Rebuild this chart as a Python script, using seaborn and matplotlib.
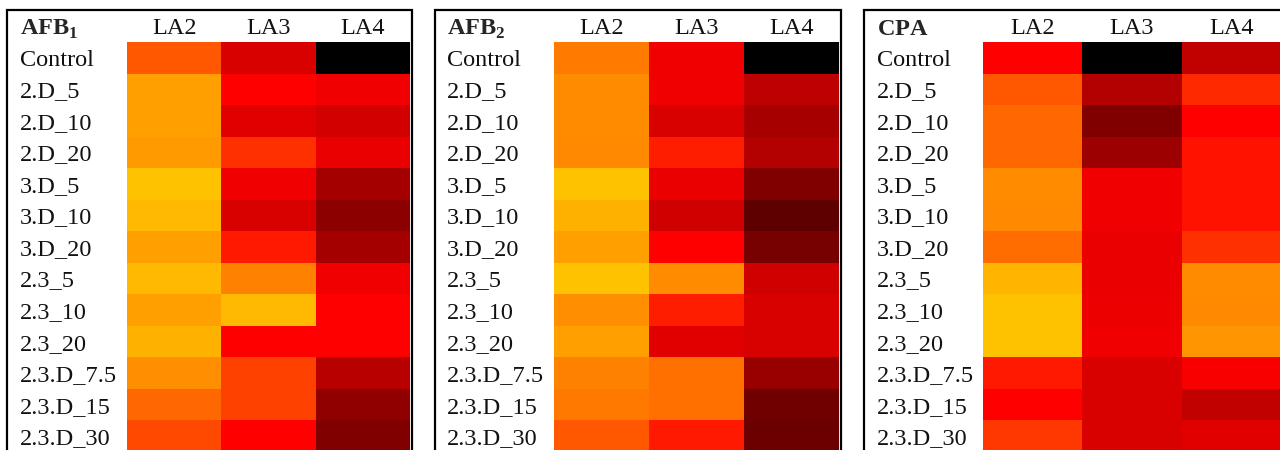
#!/usr/bin/env python3
"""Three heatmaps (AFB1, AFB2, CPA) by treatment and cultivar."""
import numpy as np
import matplotlib
matplotlib.use("Agg")
import matplotlib.pyplot as plt
from matplotlib.colors import LinearSegmentedColormap
from matplotlib.patches import Rectangle
import pandas as pd
import seaborn as sns

treatments = ["Control", "2.D_5", "2.D_10", "2.D_20", "3.D_5", "3.D_10", "3.D_20",
              "2.3_5", "2.3_10", "2.3_20", "2.3.D_7.5", "2.3.D_15", "2.3.D_30"]
cultivars = ["LA2", "LA3", "LA4"]

# relative level (0 = lowest, 1 = highest)
afb1_la2 = [0.33, 0.13, 0.13, 0.15, 0.01, 0.04, 0.13, 0.04, 0.13, 0.07, 0.19, 0.29, 0.37]
afb1_la3 = [0.62, 0.50, 0.60, 0.42, 0.55, 0.62, 0.46, 0.23, 0.04, 0.50, 0.39, 0.39, 0.50]
afb1_la4 = [1.00, 0.55, 0.64, 0.57, 0.74, 0.78, 0.74, 0.55, 0.50, 0.50, 0.71, 0.77, 0.80]

afb2_la2 = [0.245, 0.20, 0.20, 0.21, 0.01, 0.07, 0.13, 0.01, 0.19, 0.13, 0.23, 0.25, 0.33]
afb2_la3 = [0.55, 0.55, 0.62, 0.45, 0.57, 0.65, 0.50, 0.20, 0.45, 0.60, 0.27, 0.27, 0.46]
afb2_la4 = [1.00, 0.70, 0.735, 0.715, 0.80, 0.90, 0.825, 0.65, 0.62, 0.62, 0.76, 0.85, 0.86]

cpa_la2 = [0.50, 0.33, 0.29, 0.29, 0.20, 0.21, 0.28, 0.06, 0.01, 0.01, 0.46, 0.50, 0.41]
cpa_la3 = [1.00, 0.715, 0.80, 0.75, 0.55, 0.55, 0.57, 0.57, 0.555, 0.55, 0.62, 0.62, 0.62]
cpa_la4 = [0.69, 0.43, 0.50, 0.47, 0.47, 0.47, 0.42, 0.20, 0.21, 0.17, 0.52, 0.69, 0.60]

panel_titles = [r"$\mathbf{AFB}_{\mathbf{1}}$", r"$\mathbf{AFB}_{\mathbf{2}}$",
                r"$\mathbf{CPA}$"]
panel_data = [
    (afb1_la2, afb1_la3, afb1_la4),
    (afb2_la2, afb2_la3, afb2_la4),
    (cpa_la2, cpa_la3, cpa_la4),
]

# yellow -> orange -> red -> dark red -> black
heat = LinearSegmentedColormap.from_list("heat", [
    (0.0, "#FFC400"),
    (0.2, "#FF8C00"),
    (0.4, "#FF3C00"),
    (0.5, "#FF0000"),
    (0.6, "#E00000"),
    (0.7, "#BE0000"),
    (0.8, "#800000"),
    (0.9, "#600000"),
    (1.0, "#000000"),
])

W, H = 1280, 450
# pixel layout: box left/right, heatmap left/right, text left
layout = [
    (7, 412, 127, 410, 20),
    (435, 841, 554, 839, 447),
    (864, 1290, 983, 1281, 877),
]
hm_top, hm_bottom, box_top = 42, 452, 10
font_size = 17.5

sns.set_style("white")
plt.rcParams["font.family"] = ["Liberation Serif", "DejaVu Serif"]
plt.rcParams["mathtext.fontset"] = "custom"
plt.rcParams["mathtext.rm"] = "Liberation Serif"
plt.rcParams["mathtext.bf"] = "Liberation Serif:bold"

fig = plt.figure(figsize=(W / 100, H / 100), dpi=100)

for title, cols, (bx0, bx1, hx0, hx1, tx) in zip(panel_titles, panel_data, layout):
    df = pd.DataFrame(np.column_stack(cols), index=treatments, columns=cultivars)
    ax = fig.add_axes([hx0 / W, 1 - hm_bottom / H, (hx1 - hx0) / W, (hm_bottom - hm_top) / H])
    sns.heatmap(df, ax=ax, cmap=heat, vmin=0, vmax=1, cbar=False,
                xticklabels=True, yticklabels=True, linewidths=0)
    ax.xaxis.tick_top()
    ax.tick_params(axis="x", length=0, pad=2, labelsize=font_size, colors="#111111")
    ax.tick_params(axis="y", length=0, pad=(hx0 - tx) * 0.72, labelsize=font_size,
                   colors="#111111")
    plt.setp(ax.get_xticklabels(), rotation=0)
    plt.setp(ax.get_yticklabels(), rotation=0, ha="left", va="center_baseline")
    ax.set_xlabel("")
    ax.set_ylabel("")

    fig.text(tx / W, 1 - 35 / H, title, fontsize=font_size, va="baseline", ha="left")
    fig.add_artist(Rectangle((bx0 / W, -0.05), (bx1 - bx0) / W, 1.05 - box_top / H,
                             transform=fig.transFigure, fill=False,
                             edgecolor="black", lw=1.6, clip_on=False))

fig.savefig("out.png", dpi=100)
